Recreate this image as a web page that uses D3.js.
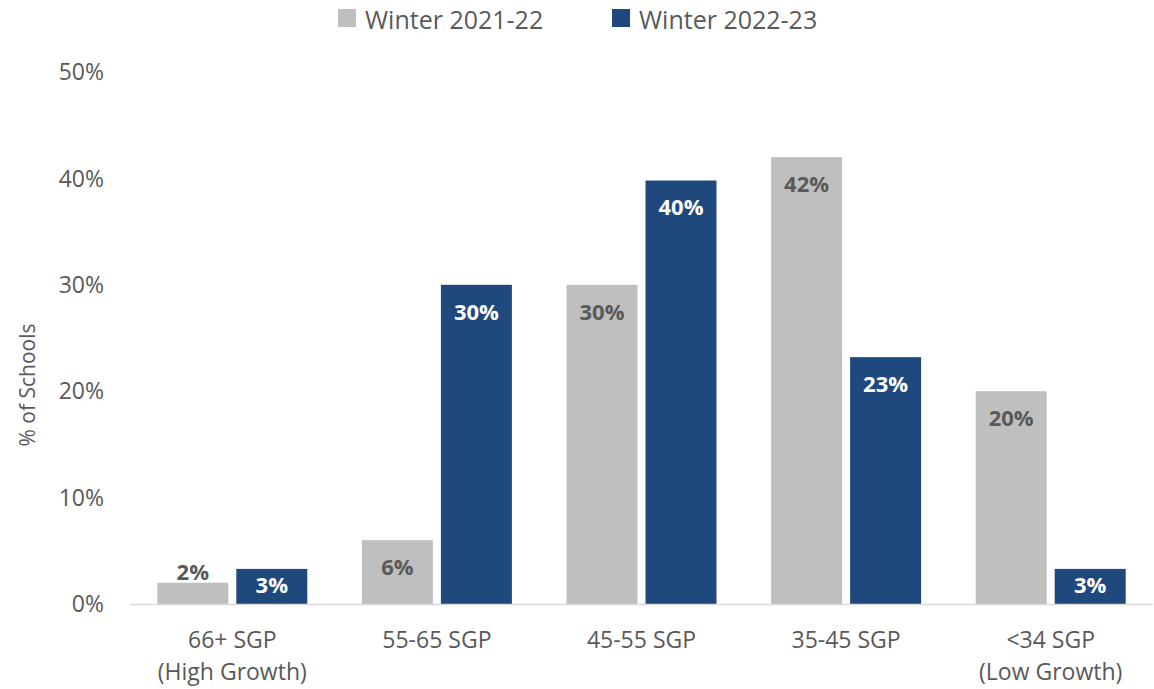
<!DOCTYPE html>
<html><head><meta charset="utf-8">
<script src="https://cdn.jsdelivr.net/npm/d3@7/dist/d3.min.js"></script>
<style>body{margin:0;background:#fff}svg{display:block;font-family:"Open Sans",sans-serif}</style>
</head><body><svg id="c" width="1154" height="689"></svg>
<script>
const categories = [["66+ SGP","(High Growth)"],["55-65 SGP"],["45-55 SGP"],["35-45 SGP"],["<34 SGP","(Low Growth)"]];
const seriesNames = ["Winter 2021-22","Winter 2022-23"];
const winter2122 = [2, 6, 30, 42, 20];
const winter2223 = [3.3, 30, 39.8, 23.2, 3.3];
const labels2122 = ["2%","6%","30%","42%","20%"];
const labels2223 = ["3%","30%","40%","23%","3%"];
const yTicks = [0,10,20,30,40,50];

const colors = ["#bfbfbf","#1f497d"];
const labelColors = ["#595959","#ffffff"];
const svg = d3.select("#c");
const x0 = 130, x1 = 1153, yTop = 72, yBase = 604;
const x = d3.scaleBand().domain(d3.range(categories.length)).range([x0,x1]).padding(0);
const y = d3.scaleLinear().domain([0,50]).range([yBase,yTop]);
const barW = 71, gap = 8;
const xs = d3.scaleBand().domain([0,1]).range([0, barW*2+gap]).paddingInner(gap/(barW+gap)).paddingOuter(0);

// y axis ticks
svg.append("g").selectAll("text").data(yTicks).join("text")
  .attr("x",104).attr("y",d=>y(d)).attr("dy","0.36em").attr("text-anchor","end")
  .attr("font-size",23).attr("fill","#595959").text(d=>d+"%");

svg.append("text").attr("transform",`translate(27,${385}) rotate(-90)`)
  .attr("text-anchor","middle").attr("dy","0.36em").attr("font-size",21).attr("fill","#595959").text("% of Schools");

const series = [winter2122, winter2223];
const lbls = [labels2122, labels2223];
series.forEach((vals,s)=>{
  const g = svg.append("g");
  g.selectAll("rect").data(vals).join("rect")
    .attr("x",(d,i)=>x(i)+x.bandwidth()/2-(barW+gap/2)+xs(s))
    .attr("width",xs.bandwidth())
    .attr("y",d=>y(d)).attr("height",d=>yBase-y(d)).attr("fill",colors[s]);
  g.selectAll("text").data(vals).join("text")
    .attr("x",(d,i)=>x(i)+x.bandwidth()/2-(barW+gap/2)+xs(s)+xs.bandwidth()/2)
    .attr("y",d=>{const h=yBase-y(d); if(h<30) return y(d)-11; return Math.min(y(d)+27, yBase-19);})
    .attr("dy","0.36em").attr("text-anchor","middle").attr("font-size",22).attr("font-weight","bold")
    .attr("fill",(d)=>{const h=yBase-y(d); return h<30 ? "#595959" : labelColors[s];})
    .text((d,i)=>lbls[s][i]);
});

// axis line
svg.append("line").attr("x1",x0).attr("x2",x1).attr("y1",yBase+0.5).attr("y2",yBase+0.5)
  .attr("stroke","#d9d9d9").attr("stroke-width",1.5);

// category labels
const cat = svg.append("g").selectAll("text").data(categories).join("text")
  .attr("x",(d,i)=>x(i)+x.bandwidth()/2).attr("y",640).attr("text-anchor","middle")
  .attr("font-size",23).attr("fill","#595959");
cat.selectAll("tspan").data(d=>d).join("tspan")
  .attr("x",function(){return d3.select(this.parentNode).attr("x");})
  .attr("dy",(d,i)=>i===0?"0.36em":"1.38em").text(d=>d);

// legend
const legX = [338, 612];
seriesNames.forEach((n,i)=>{
  svg.append("rect").attr("x",legX[i]).attr("y",9).attr("width",18).attr("height",18).attr("fill",colors[i]);
  svg.append("text").attr("x",legX[i]+27).attr("y",20).attr("dy","0.36em").attr("font-size",25)
    .attr("fill","#595959").text(n);
});
</script></body></html>
